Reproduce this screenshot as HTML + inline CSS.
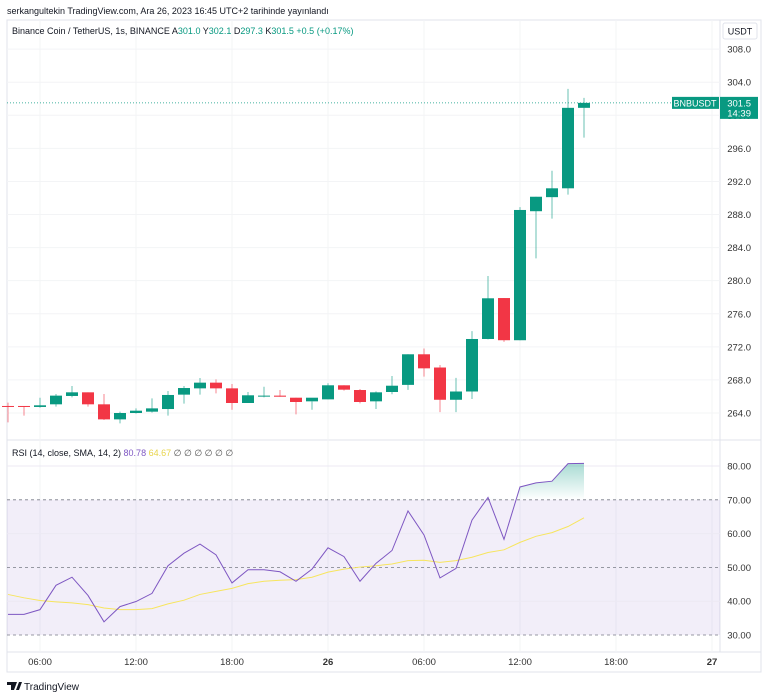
<!DOCTYPE html>
<html><head><meta charset="utf-8"><style>
body{margin:0;background:#fff;font-family:"Liberation Sans",sans-serif;}
svg{display:block}
text{font-family:"Liberation Sans",sans-serif;}
</style></head><body>
<svg id="c" width="768" height="698"></svg>
<script>
const hours=[4,5,6,7,8,9,10,11,12,13,14,15,16,17,18,19,20,21,22,23,24,25,26,27,28,29,30,31,32,33,34,35,36,37,38,39,40];
const opens=[264.85,264.85,264.73,265.05,266.06,266.50,265.05,263.23,264.0,264.16,264.48,266.22,266.98,267.67,266.98,265.21,266.06,266.10,265.85,265.41,265.65,267.35,266.78,265.41,266.54,267.4,271.1,269.5,265.6,266.6,272.95,277.9,272.8,288.4,290.1,291.17,300.9];
const closes=[264.73,264.73,264.93,266.10,266.50,265.05,263.23,264.0,264.28,264.56,266.18,267.02,267.67,266.98,265.21,266.14,266.10,265.97,265.33,265.85,267.35,266.82,265.33,266.50,267.30,271.1,269.4,265.6,266.6,272.95,277.87,272.8,288.55,290.15,291.17,300.9,301.5];
const highs=[265.25,264.85,265.85,266.30,267.26,266.50,266.30,264.16,264.56,265.77,266.66,267.26,268.23,268.07,267.51,266.54,267.18,266.78,265.85,265.41,267.59,267.35,266.90,266.62,268.47,271.1,271.8,269.8,268.25,273.9,280.57,277.9,288.9,290.15,293.3,303.2,302.1];
const lows=[262.87,263.68,264.64,264.77,265.89,264.77,263.15,262.75,263.92,264.04,263.68,265.13,266.22,266.38,264.40,265.21,265.89,265.97,263.84,264.40,265.65,266.70,265.17,264.48,266.26,266.8,268.4,264.1,264.1,265.7,272.9,272.6,272.8,282.7,287.5,290.4,297.3];
const rsi=[36.1,36.1,37.5,44.7,47.1,41.7,33.9,38.4,39.9,42.3,50.5,54.2,56.9,53.7,45.4,49.3,49.3,48.7,45.9,49.5,55.8,53.2,45.9,51.2,55.0,66.7,59.6,46.9,49.7,64.0,70.7,58.3,73.8,75.0,75.5,80.7,80.78];
const sma=[42.0,41.0,40.2,39.8,39.5,39.0,38.0,37.5,37.5,37.8,39.2,40.3,42.0,42.9,43.8,45.2,45.9,46.2,46.4,47.1,48.6,49.5,50.1,50.5,51.0,52.0,52.1,51.5,52.0,53.0,54.4,55.2,57.4,59.2,60.3,62.1,64.67];
const priceTicks=[264,268,272,276,280,284,288,292,296,300,304,308];
const rsiTicks=[30,40,50,60,70,80];
const timeLabels=[[6,"06:00"],[12,"12:00"],[18,"18:00"],[24,"26"],[30,"06:00"],[36,"12:00"],[42,"18:00"],[48,"27"]];
const lastPrice=301.5;

const X=h=>40+(h-6)*16;
const Y=p=>413-(p-264)*8.27;
const R=v=>466+(80-v)*3.38;
const svg=document.getElementById('c');
const NS='http://www.w3.org/2000/svg';
function mk(tag,a,parent){const e=document.createElementNS(NS,tag);for(const k in a)e.setAttribute(k,a[k]);(parent||svg).appendChild(e);return e;}
function tx(s,a){const e=mk('text',a);e.textContent=s;return e;}

let e=mk('rect',{x:7,y:20,width:754,height:652,fill:'#fff',stroke:'#e0e3eb'});

mk('line',{x1:720,y1:20,x2:720,y2:652,stroke:'#e0e3eb'});
mk('line',{x1:7,y1:440,x2:761,y2:440,stroke:'#e0e3eb'});
mk('line',{x1:7,y1:652,x2:761,y2:652,stroke:'#e0e3eb'});
e=tx('serkangultekin TradingView.com, Ara 26, 2023 16:45 UTC+2 tarihinde yayınlandı',{x:7,y:14,'font-size':9,fill:'#131722'});


timeLabels.forEach(([h])=>{const x=X(h);if(x<720)mk('line',{x1:x,y1:20,x2:x,y2:652,stroke:'#f3f4f6'});});
priceTicks.forEach(p=>{mk('line',{x1:7,y1:Y(p),x2:720,y2:Y(p),stroke:'#f3f4f6'});
 e=tx(p.toFixed(1),{x:751,y:Y(p)+3.5,'font-size':9.5,fill:'#333','text-anchor':'end'});
 });

e=mk('rect',{x:723,y:23,width:34,height:16,rx:2,fill:'#fff',stroke:'#e0e3eb'});

tx('USDT',{x:740,y:34.5,'font-size':9,fill:'#131722','text-anchor':'middle'});

e=tx('',{x:12,y:34,'font-size':9,fill:'#131722'});

e.innerHTML='Binance Coin / TetherUS, 1s, BINANCE  A<tspan fill="#089981">301.0</tspan> Y<tspan fill="#089981">302.1</tspan> D<tspan fill="#089981">297.3</tspan> K<tspan fill="#089981">301.5</tspan> <tspan fill="#089981">+0.5 (+0.17%)</tspan>';

hours.forEach((h,i)=>{const up=closes[i]>=opens[i];const col=up?'#089981':'#f23645';const x=X(h);
 const g=mk('g',{});
 
 
 mk('line',{x1:x,y1:Y(highs[i]),x2:x,y2:Y(lows[i]),stroke:col,'stroke-width':1,opacity:0.6},g);
 const t=Y(Math.max(opens[i],closes[i])),b=Y(Math.min(opens[i],closes[i]));
 mk('rect',{x:x-6,y:t,width:12,height:Math.max(1,b-t),fill:col},g);});

const ly=Y(lastPrice);
mk('line',{x1:7,y1:ly,x2:720,y2:ly,stroke:'#089981','stroke-dasharray':'1 2','stroke-width':0.8});
e=mk('rect',{x:672,y:ly-6,width:47,height:12,fill:'#089981'});

tx('BNBUSDT',{x:695,y:ly+3.5,'font-size':9,fill:'#fff','text-anchor':'middle'});
e=mk('rect',{x:720,y:ly-6,width:38,height:22,fill:'#089981'});

tx(lastPrice.toFixed(1),{x:751,y:ly+3.5,'font-size':9.5,fill:'#fff','text-anchor':'end'});
tx('14:39',{x:751,y:ly+13.5,'font-size':9.5,fill:'#fff','text-anchor':'end'});

// RSI pane
e=mk('rect',{x:7,y:R(70),width:713,height:R(30)-R(70),fill:'#7e57c2','fill-opacity':0.1});

rsiTicks.forEach(v=>{if(v==40||v==60||v==80)mk('line',{x1:7,y1:R(v),x2:720,y2:R(v),stroke:'#ece9f3'});
 e=tx(v.toFixed(2),{x:751,y:R(v)+3.5,'font-size':9.5,fill:'#333','text-anchor':'end'});
 });
[70,50,30].forEach(v=>mk('line',{x1:7,y1:R(v),x2:720,y2:R(v),stroke:'#787b86','stroke-dasharray':'3 3','stroke-width':0.8}));
const defs=mk('defs',{});
const lg=mk('linearGradient',{id:'gf',x1:0,y1:0,x2:0,y2:1},defs);
mk('stop',{offset:0,'stop-color':'#089981','stop-opacity':0.35},lg);
mk('stop',{offset:1,'stop-color':'#089981','stop-opacity':0},lg);
let pts=[];
for(let i=1;i<hours.length;i++){const a=rsi[i-1],b=rsi[i];
 if(a<70&&b>=70){const t=(70-a)/(b-a);pts.push([X(hours[i-1])+t*16,R(70)]);}
 if(b>=70)pts.push([X(hours[i]),R(b)]);}
if(pts.length){let d='M'+pts.map(p=>p.join(',')).join(' L')+` L${pts[pts.length-1][0]},${R(70)} Z`;
 e=mk('path',{d,fill:'url(#gf)'});}
e=mk('polyline',{points:hours.map((h,i)=>X(h)+','+R(sma[i])).join(' '),fill:'none',stroke:'#f7e55e','stroke-width':1});

e=mk('polyline',{points:hours.map((h,i)=>X(h)+','+R(rsi[i])).join(' '),fill:'none',stroke:'#7e57c2','stroke-width':1});

e=tx('',{x:12,y:456,'font-size':9,fill:'#131722'});

e.innerHTML='RSI (14, close, SMA, 14, 2)  <tspan fill="#7e57c2">80.78</tspan>  <tspan fill="#e8d44a">64.67</tspan>  <tspan fill="#555">∅ ∅ ∅ ∅ ∅ ∅</tspan>';

timeLabels.forEach(([h,s])=>{e=tx(s,{x:X(h),y:665,'font-size':9.5,fill:'#333','text-anchor':'middle','font-weight':(s=='26'||s=='27')?'bold':'normal'});
 });

// logo
const lgG=mk('g',{});


mk('path',{d:'M7 682 h7 v8 h-3 v-5 h-4 z M14 682 h3 l-3 8 z M16 690 l3 -8 h3 l-3 8 z',fill:'#131722'},lgG);
e=tx('TradingView',{x:24,y:690,'font-size':10,fill:'#131722'});
</script>
</body></html>
